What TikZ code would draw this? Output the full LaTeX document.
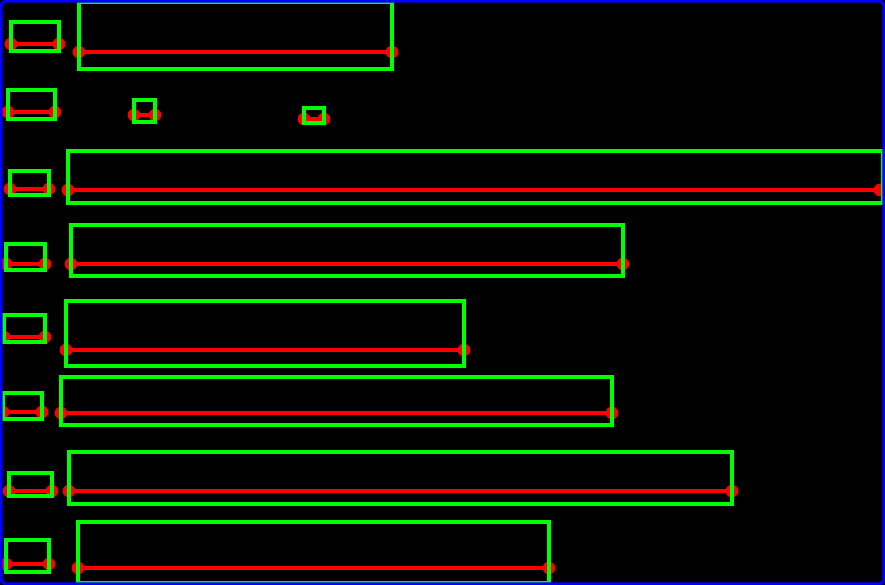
\documentclass[tikz,border=0pt]{standalone}
\usepackage{tikz}
\usetikzlibrary{arrows.meta, calc, positioning}
\definecolor{bgblack}{HTML}{000000}
\definecolor{rimgreen}{HTML}{00FF00}
\definecolor{spanred}{HTML}{FF0000}
\definecolor{frameblue}{HTML}{0000FF}
\tikzset{
  spanedge/.style = {draw=spanred, line width=2.8pt},
  spanend/.style  = {circle, fill=spanred, draw=none,
                     minimum size=0.38cm, inner sep=0pt},
  boxrim/.style   = {draw=rimgreen, line width=2.7pt},
  frame/.style    = {draw=frameblue, line width=2.6pt, rounded corners=5pt},
}

\begin{document}
\begin{tikzpicture}[x={(0.03cm,0cm)}, y={(0cm,-0.03cm)},
                    line join=miter, line cap=rect]
  \useasboundingbox (0,0) rectangle (885,585);
  \fill[bgblack] (0,0) rectangle (885,585);
  % spans: left, top, right, bottom, height of the span line
  \foreach \xa/\ya/\xb/\yb/\ly [count=\i] in {
      11/22/59/51/44,     79/2/392/69/52,
      8/90/55/119/112,    134/100/155/122/115,   304/108/324/123/119,
      10/171/49/195/189,  68/151/883/203/190,
      6/244/45/270/264,   71/225/623/276/264,
      4/315/45/342/337,   66/301/464/366/350,
      3/393/42/419/412,   61/377/612/425/413,
      9/473/52/496/491,   69/452/732/504/491,
      6/540/49/572/564,   78/522/549/583/568}{
    \node[spanend] (l\i) at (\xa,\ly) {};
    \node[spanend] (r\i) at ({min(\xb,880)},\ly) {};
    \draw[spanedge] (l\i.center) -- (r\i.center);
    \draw[boxrim] (\xa,\ya) rectangle (\xb,\yb);
  }
  \draw[frame] (1,1) rectangle (884,584);
\end{tikzpicture}
\end{document}
